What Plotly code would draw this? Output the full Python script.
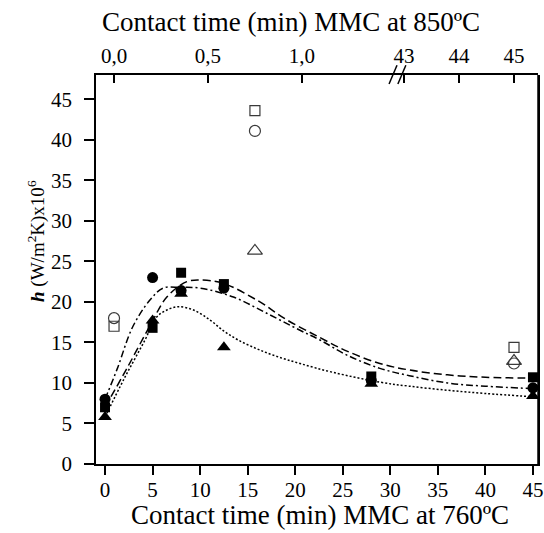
import plotly.graph_objects as go

FONT = "Liberation Serif"

# ---- Data: MMC at 760 ºC (filled markers), contact time in minutes (bottom axis)
t760 = [0, 5, 8, 12.5, 28, 45]
h760_circle = [8.0, 23.0, 21.4, 21.7, 10.3, 9.4]
h760_square = [7.0, 16.8, 23.6, 22.2, 10.8, 10.7]
h760_triangle = [5.8, 17.7, 21.0, 14.4, 9.9, 8.4]

# ---- Data: MMC at 850 ºC (open markers), contact time in minutes (top axis)
t850_a = [0.0, 0.75]          # short-time part of the broken top axis
h850_circle_a = [18.0, 41.1]
h850_square_a = [17.0, 43.6]
h850_triangle_a = [None, 26.3]
t850_b = [45]                 # long-time part of the broken top axis
h850_circle_b = [12.4]
h850_square_b = [14.4]
h850_triangle_b = [12.7]

# ---- Fitted curves
fit_dash_x = [0, 2.3, 4.7, 6.5, 8.6, 10, 12.4, 16, 19.1, 22.6, 25.5, 28.9, 32, 36, 40, 45]
fit_dash_y = [7.0, 11.8, 17.0, 20.6, 22.5, 22.7, 22.3, 20.2, 17.8, 15.6, 13.9, 12.4, 11.6, 11.0, 10.7, 10.6]
fit_dashdot_x = [0, 1.3, 2.9, 4.7, 6.1, 7.9, 10, 13.5, 17, 20.5, 22.6, 25.5, 28.9, 32, 36, 40, 45]
fit_dashdot_y = [8.0, 11.8, 16.9, 20.2, 21.7, 21.8, 21.7, 20.6, 18.6, 16.5, 15.3, 13.4, 11.8, 10.9, 10.0, 9.6, 9.3]
fit_dot_x = [0, 2, 4.2, 5.4, 6.5, 7.7, 9.3, 11, 12.5, 14, 16, 18, 20.5, 24, 28.9, 32, 36, 40, 45]
fit_dot_y = [5.8, 10.5, 15.3, 18.1, 19.0, 19.4, 19.0, 17.8, 16.4, 15.3, 14.2, 13.3, 12.4, 11.3, 10.1, 9.6, 9.1, 8.7, 8.3]

# ---- Tick labels
y_ticks = [0, 5, 10, 15, 20, 25, 30, 35, 40, 45]
x_ticks = [0, 5, 10, 15, 20, 25, 30, 35, 40, 45]
top_a_vals = [0.0, 0.5, 1.0]
top_a_text = ["0,0", "0,5", "1,0"]
top_b_vals = [43, 44, 45]
top_b_text = ["43", "44", "45"]

fig = go.Figure()

line_w = 1.5
fig.add_trace(go.Scatter(x=fit_dash_x, y=fit_dash_y, mode="lines",
                         line=dict(color="black", width=line_w, dash="8px,4px", shape="spline"),
                         showlegend=False, hoverinfo="skip"))
fig.add_trace(go.Scatter(x=fit_dashdot_x, y=fit_dashdot_y, mode="lines",
                         line=dict(color="black", width=line_w, dash="7px,3px,2px,3px", shape="spline"),
                         showlegend=False, hoverinfo="skip"))
fig.add_trace(go.Scatter(x=fit_dot_x, y=fit_dot_y, mode="lines",
                         line=dict(color="black", width=line_w, dash="2px,2px", shape="spline"),
                         showlegend=False, hoverinfo="skip"))

fig.add_trace(go.Scatter(x=t760, y=h760_square, mode="markers",
                         marker=dict(symbol="square", size=10, color="black"), showlegend=False))
fig.add_trace(go.Scatter(x=t760, y=h760_circle, mode="markers",
                         marker=dict(symbol="circle", size=11, color="black"), showlegend=False))
fig.add_trace(go.Scatter(x=t760, y=h760_triangle, mode="markers",
                         marker=dict(symbol="triangle-up", size=12, color="black"), showlegend=False))

open_col = "#3a3a3a"
for xs, xa, hc, hs, ht in [(t850_a, "x2", h850_circle_a, h850_square_a, h850_triangle_a),
                           (t850_b, "x3", h850_circle_b, h850_square_b, h850_triangle_b)]:
    fig.add_trace(go.Scatter(x=xs, y=ht, xaxis=xa, yaxis="y", mode="markers",
                             marker=dict(symbol="triangle-up-open", size=13, color=open_col,
                                         line=dict(width=1.2, color=open_col)), showlegend=False))
    fig.add_trace(go.Scatter(x=xs, y=hs, xaxis=xa, yaxis="y", mode="markers",
                             marker=dict(symbol="square-open", size=10, color=open_col,
                                         line=dict(width=1.2, color=open_col)), showlegend=False))
    fig.add_trace(go.Scatter(x=xs, y=hc, xaxis=xa, yaxis="y", mode="markers",
                             marker=dict(symbol="circle-open", size=11, color=open_col,
                                         line=dict(width=1.2, color=open_col)), showlegend=False))

tickfont = dict(family=FONT, size=21, color="black")
brk = 0.683
common = dict(tickwidth=1.5, tickcolor="black", showline=True, linewidth=1.5, linecolor="black",
              showgrid=False, zeroline=False, tickfont=tickfont, automargin=False)

fig.update_layout(
    width=544, height=533,
    margin=dict(l=96, r=6, t=75, b=69, autoexpand=False),
    paper_bgcolor="white", plot_bgcolor="rgba(0,0,0,0)",
    font=dict(family=FONT, color="black"),
    xaxis=dict(domain=[0, 1], anchor="y", range=[-0.95, 45.53], tickvals=x_ticks,
               ticks="outside", ticklen=9, ticklabelstandoff=-3, **common),
    xaxis2=dict(domain=[0, brk], anchor="y", side="top", range=[-0.096, 1.511],
                tickvals=top_a_vals, ticktext=top_a_text,
                ticks="inside", ticklen=8, ticklabelstandoff=2, **common),
    xaxis3=dict(domain=[brk, 1], anchor="y", side="top", range=[42.89, 45.436],
                tickvals=top_b_vals, ticktext=top_b_text,
                ticks="inside", ticklen=8, ticklabelstandoff=2, **common),
    yaxis=dict(domain=[0, 1], anchor="x", range=[0, 48], tickvals=y_ticks, mirror=True,
               ticks="outside", ticklen=10, ticklabelstandoff=8, **common),
)

# right frame line and axis-break mark
fig.add_shape(type="line", xref="paper", yref="paper", x0=1, x1=1, y0=0, y1=1,
              line=dict(color="black", width=1.5), layer="above")
for dx in (0.0, 0.02):
    fig.add_shape(type="line", xref="paper", yref="paper",
                  x0=0.663 + dx, y0=0.977, x1=0.681 + dx, y1=1.025,
                  line=dict(color="black", width=1.5))

fig.add_annotation(text="Contact time (min) MMC at 760ºC", xref="paper", yref="paper",
                   x=0.506, y=-0.131, xanchor="center", yanchor="middle", showarrow=False,
                   font=dict(family=FONT, size=27, color="black"))
fig.add_annotation(text="Contact time (min) MMC at 850ºC", xref="paper", yref="paper",
                   x=0.442, y=1.136, xanchor="center", yanchor="middle", showarrow=False,
                   font=dict(family=FONT, size=27, color="black"))
fig.add_annotation(text="<b><i>h</i></b> (W/m<sup>2</sup>K)x10<sup>6</sup>", xref="paper", yref="paper",
                   x=-0.136, y=0.573, xanchor="center", yanchor="middle", showarrow=False,
                   textangle=-90, font=dict(family=FONT, size=19, color="black"))

# remove the page's default 8px body margin so the 544x533 figure fills the window
fig.write_html("out.html", config={"displayModeBar": False},
               post_script="document.body.style.margin='0';document.body.style.overflow='hidden';")
